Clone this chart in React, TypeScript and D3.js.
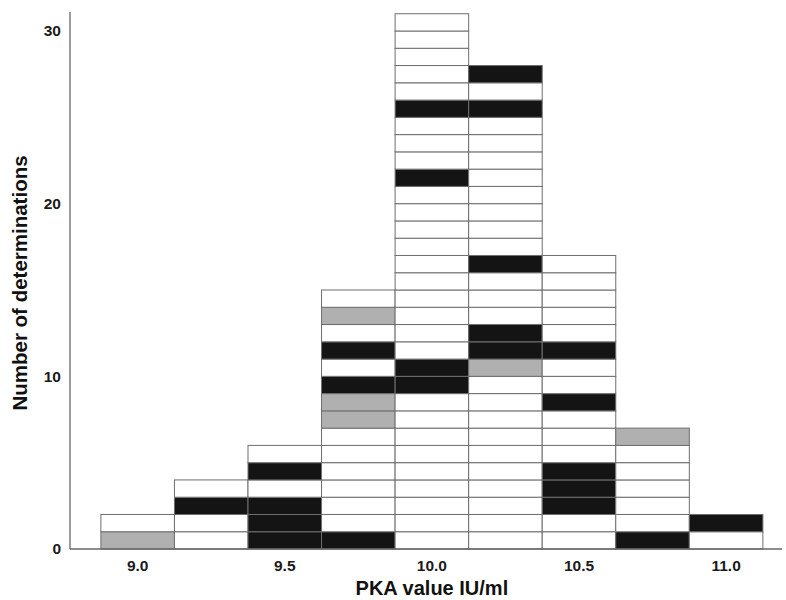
import * as d3 from "d3";

// bin centres of the histogram (PKA value IU/ml)
const binCenters = [9.0, 9.25, 9.5, 9.75, 10.0, 10.25, 10.5, 10.75, 11.0];

// one letter per determination, bottom to top: W = white, B = black, G = grey
const binCells = [
  "GW",
  "WWBW",
  "BBBWBW",
  "BWWWWWWGGBWBWGW",
  "WWWWWWWWWBBWWWWWWWWWWBWWWBWWWWW",
  "WWWWWWWWWWGBBWWWBWWWWWWWWBWB",
  "WWBBBWWWBWWBWWWWW",
  "BWWWWWG",
  "WB",
];

const xTicks = [9.0, 9.5, 10.0, 10.5, 11.0];
const yTicks = [0, 10, 20, 30];

const fills: Record<string, string> = { W: "#ffffff", B: "#141414", G: "#b0b0b0" };

export default function App() {
  const width = 786;
  const height = 600;
  const binWidth = 0.25;

  const x = d3.scaleLinear().domain([8.77, 11.19]).range([70, 782]);
  const y = d3.scaleLinear().domain([0, 31.1]).range([549, 12]);

  const cells = binCenters.flatMap((c, i) =>
    binCells[i].split("").map((code, k) => ({ c, k, code }))
  );

  const font = "'Liberation Sans', Arial, sans-serif";

  return (
    <div style={{ position: "absolute", left: 0, top: 0 }}>
      <svg width={width} height={height} style={{ display: "block", background: "#fff" }}>
        <g>
          {cells.map((d, i) => (
            <rect
              key={i}
              x={x(d.c - binWidth / 2)}
              y={y(d.k + 1)}
              width={x(d.c + binWidth / 2) - x(d.c - binWidth / 2)}
              height={y(d.k) - y(d.k + 1)}
              fill={fills[d.code]}
              stroke="#6e6e6e"
              strokeWidth={1}
            />
          ))}
        </g>
        {/* axes */}
        <line x1={x.range()[0]} x2={x.range()[1]} y1={y(0)} y2={y(0)} stroke="#666" strokeWidth={1.3} />
        <line x1={x.range()[0]} x2={x.range()[0]} y1={y.range()[1]} y2={y(0)} stroke="#666" strokeWidth={1.3} />
        <g fontFamily={font} fontWeight="bold" fontSize={15.5} fill="#1a1a1a">
          {xTicks.map((t) => (
            <text key={t} x={x(t)} y={y(0) + 22} textAnchor="middle">
              {d3.format(".1f")(t)}
            </text>
          ))}
          {yTicks.map((t) => (
            <text key={t} x={61} y={y(t)} dy="0.35em" textAnchor="end">
              {t}
            </text>
          ))}
        </g>
        <text
          x={x(10.0)}
          y={595}
          textAnchor="middle"
          fontFamily={font}
          fontWeight="bold"
          fontSize={20}
          fill="#111"
        >
          PKA value IU/ml
        </text>
        <text
          transform={`translate(27,${283}) rotate(-90)`}
          textAnchor="middle"
          fontFamily={font}
          fontWeight="bold"
          fontSize={20.5}
          fill="#111"
        >
          Number of determinations
        </text>
      </svg>
    </div>
  );
}
